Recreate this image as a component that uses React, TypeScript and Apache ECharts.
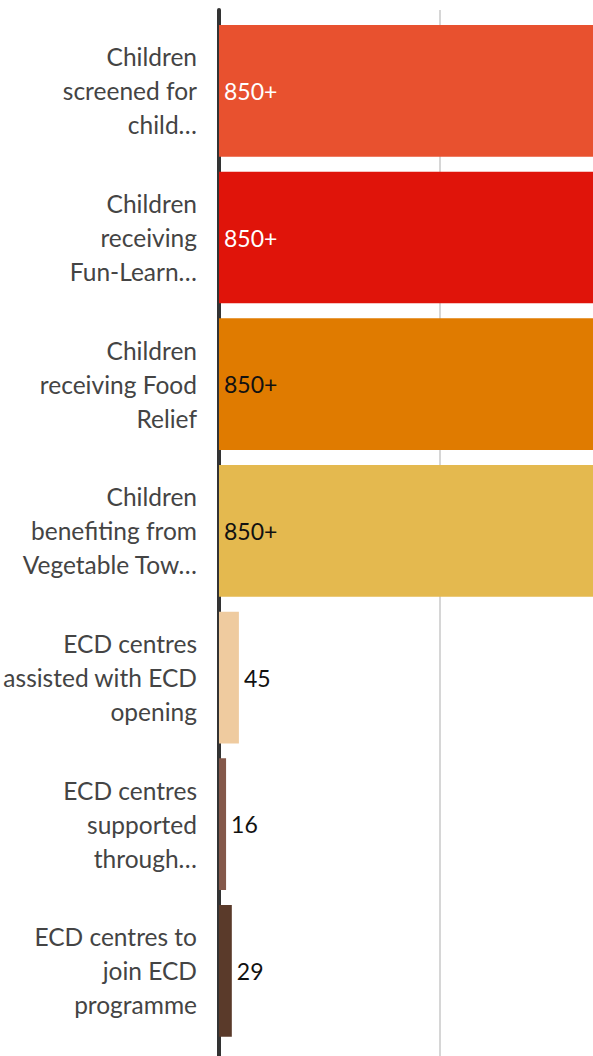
import React, { useEffect, useRef } from "react";
import * as echarts from "echarts";

const categories = [
  "Children\nscreened for\nchild…",
  "Children\nreceiving\nFun-Learn…",
  "Children\nreceiving Food\nRelief",
  "Children\nbenefiting from\nVegetable Tow…",
  "ECD centres\nassisted with ECD\nopening",
  "ECD centres\nsupported\nthrough…",
  "ECD centres to\njoin ECD\nprogramme",
];
const values = [850, 850, 850, 850, 45, 16, 29];
const valueLabels = ["850+", "850+", "850+", "850+", "45", "16", "29"];
const barColors = ["#E8512F", "#E0140A", "#E07B00", "#E4B94F", "#EFCB9F", "#84584A", "#5A3A2A"];
const labelColors = ["#ffffff", "#ffffff", "#111111", "#111111", "#111111", "#111111", "#111111"];
const labelInside = [true, true, true, true, false, false, false];
const axisMax = 846;
const gridInterval = 500;

export default function App() {
  const ref = useRef<HTMLDivElement>(null);
  useEffect(() => {
    if (!ref.current) return;
    const chart = echarts.init(ref.current, undefined, { renderer: "svg" });
    const font = "Lato, 'Noto Sans', sans-serif";
    chart.setOption({
      animation: false,
      backgroundColor: "#ffffff",
      grid: [
        { left: 219, right: 0, top: 10, bottom: 0, containLabel: false, outerBoundsMode: "none" },
        { left: 219, right: 0, top: 17.5, bottom: 11.8, containLabel: false, outerBoundsMode: "none" },
      ],
      xAxis: [
        {
          gridIndex: 0,
          type: "value",
          min: 0,
          max: axisMax,
          interval: gridInterval,
          axisLabel: { show: false },
          axisLine: { show: false },
          axisTick: { show: false },
          splitLine: {
            show: true,
            showMinLine: false,
            showMaxLine: false,
            lineStyle: { color: "#d6d6d6", width: 2 },
          },
        },
        {
          gridIndex: 1,
          type: "value",
          min: 0,
          max: axisMax,
          show: false,
          splitLine: { show: false },
        },
      ],
      yAxis: [
        {
          gridIndex: 0,
          type: "value",
          min: 0,
          max: 1,
          offset: 2,
          axisLabel: { show: false },
          axisTick: { show: false },
          splitLine: { show: false },
          axisLine: { show: true, lineStyle: { color: "#333333", width: 4 } },
        },
        {
          gridIndex: 1,
          type: "category",
          inverse: true,
          data: categories,
          axisLine: { show: false },
          axisTick: { show: false },
          axisLabel: {
            margin: 22,
            fontSize: 24.5,
            lineHeight: 34,
            color: "#444444",
            fontFamily: font,
            align: "right",
          },
        },
      ],
      series: [
        {
          type: "bar",
          xAxisIndex: 1,
          yAxisIndex: 1,
          barCategoryGap: "10.2%",
          data: values.map((v, i) => ({
            value: v,
            itemStyle: { color: barColors[i] },
            label: {
              show: true,
              position: labelInside[i] ? "insideLeft" : "right",
              distance: 5,
              color: labelColors[i],
              fontSize: 23,
              fontFamily: font,
              formatter: () => valueLabels[i],
            },
          })),
        },
      ],
    });
    return () => chart.dispose();
  }, []);
  return (
    <div
      ref={ref}
      style={{ position: "absolute", left: 0, top: 0, width: 593, height: 1056 }}
    />
  );
}
